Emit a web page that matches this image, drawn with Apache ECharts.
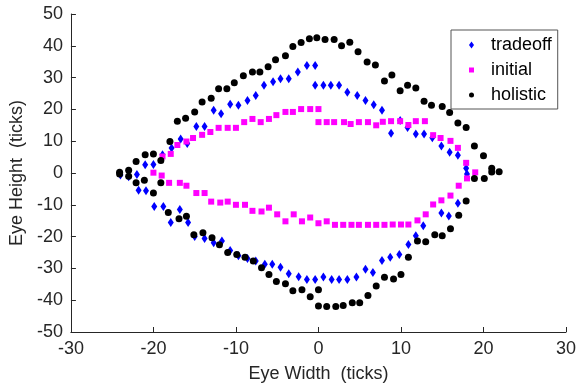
<!DOCTYPE html>
<html>
<head>
<meta charset="utf-8">
<script src="https://cdn.jsdelivr.net/npm/echarts@6/dist/echarts.min.js"></script>
<style>
  html, body { margin: 0; padding: 0; background: #fff; }
  #chart { width: 579px; height: 388px; }
</style>
</head>
<body>
<div id="chart"></div>
<script>
// tradeoff (blue diamonds): upper half then lower half
const tradeoffX = [-24.0, -22.0, -21.0, -20.0, -18.9, -17.8, -16.7, -15.9, -14.8, -13.8, -12.7, -11.8, -10.7, -9.7, -8.6, -7.6, -6.6, -5.5, -4.6, -3.6, -2.5, -1.4, -0.4, -0.4, 0.6, 1.5, 2.5, 3.5, 4.7, 5.7, 6.7, 7.7, 8.8, 9.9, 10.8, 11.8, 12.8, 13.8, 14.9, 15.9, 16.9, 17.9, 18.0,
  -23.0, -21.8, -20.9, -19.9, -18.8, -17.9, -16.8, -15.8, -15.0, -13.8, -12.7, -11.7, -10.7, -9.7, -8.6, -7.6, -6.5, -5.6, -4.6, -3.6, -2.4, -1.4, -0.4, 0.6, 1.6, 2.5, 3.5, 4.6, 5.7, 6.6, 7.7, 8.7, 9.8, 10.9, 11.8, 12.7, 14.9, 15.8, 16.9];
const tradeoffY = [-0.6, -0.5, 2.6, 2.7, 5.7, 7.9, 10.7, 9.3, 14.6, 14.6, 19.7, 18.6, 21.6, 21.3, 22.8, 24.4, 27.6, 28.7, 29.6, 29.6, 31.8, 33.8, 33.8, 27.6, 27.6, 27.6, 27.6, 25.4, 24.4, 22.8, 21.5, 19.7, 12.5, 16.5, 14.3, 12.3, 12.3, 11.1, 8.5, 6.5, 5.6, 1.5, -0.3,
  -1.2, -5.4, -5.6, -10.5, -10.5, -15.6, -11.5, -15.6, -20.0, -20.6, -21.9, -21.4, -24.4, -26.0, -26.9, -27.7, -28.7, -28.7, -29.6, -31.7, -32.6, -33.5, -33.5, -32.7, -33.5, -33.5, -33.5, -32.7, -30.3, -31.3, -27.5, -26.5, -25.6, -22.5, -19.7, -16.6, -12.6, -13.5, -9.5];

// initial (magenta squares)
const initialX = [-20.0, -18.9, -17.9, -17.1, -16.0, -15.2, -14.1, -13.1, -12.1, -11.0, -10.0, -9.0, -8.0, -7.0, -6.0, -5.1, -4.0, -3.1, -2.1, -1.0, 0.0, 0.0, 1.0, 1.9, 3.1, 3.9, 4.9, 6.0, 7.0, 7.8, 8.8, 9.9, 10.9, 11.8, 12.9, 13.9, 14.8, 16.0, 16.9, 17.9, 19.0,
  -19.0, -18.1, -16.8, -16.0, -14.8, -13.8, -13.0, -11.9, -11.0, -10.0, -8.9, -8.0, -6.9, -6.0, -5.0, -4.0, -3.0, -2.0, -1.0, 0.0, 1.0, 2.0, 3.0, 4.0, 4.9, 6.0, 7.0, 8.0, 9.0, 10.0, 10.9, 12.0, 13.0, 13.9, 14.9, 16.0, 17.0, 18.0];
const initialY = [0.1, 5.2, 6.0, 8.8, 9.9, 11.0, 12.0, 12.9, 14.2, 14.2, 14.2, 16.0, 17.0, 16.0, 17.0, 18.2, 19.2, 19.2, 20.1, 20.1, 20.1, 16.0, 16.0, 16.0, 16.0, 15.4, 16.0, 16.0, 15.0, 16.1, 16.3, 16.3, 15.1, 16.3, 16.3, 11.9, 11.0, 10.1, 7.9, 3.2, 0.2,
  -0.8, -3.1, -3.1, -4.0, -6.3, -6.3, -9.0, -9.3, -9.0, -10.0, -10.0, -11.9, -12.1, -10.9, -13.0, -15.2, -13.0, -15.2, -14.0, -15.8, -15.2, -16.3, -16.3, -16.3, -16.3, -16.3, -16.3, -16.3, -16.2, -16.2, -16.2, -14.9, -13.0, -9.9, -8.6, -7.1, -4.0, -1.7];

// holistic (black dots)
const holisticX = [-24.1, -23.0, -22.1, -21.0, -20.0, -19.1, -18.0, -17.1, -16.1, -15.0, -14.1, -13.0, -12.1, -11.1, -10.2, -9.1, -8.0, -7.1, -6.1, -5.2, -4.0, -3.1, -2.1, -1.1, -0.2, 0.8, 1.9, 2.8, 3.8, 4.8, 5.9, 6.9, 8.0, 8.9, 9.9, 10.8, 11.8, 12.8, 13.7, 15.0, 15.9, 16.9, 17.9, 18.9, 20.0, 21.0, 21.9,
  -24.1, -23.0, -22.1, -21.1, -20.0, -19.1, -18.2, -16.9, -16.0, -15.1, -14.0, -12.9, -12.0, -11.0, -9.9, -8.9, -7.9, -6.9, -6.0, -5.1, -4.0, -3.1, -2.0, -1.0, 0.0, 0.0, 1.0, 2.1, 3.0, 4.1, 5.0, 6.0, 7.0, 8.0, 9.1, 10.0, 10.9, 12.0, 13.0, 14.1, 15.0, 16.0, 17.0, 17.9, 18.9, 20.1, 21.0];
const holisticY = [0.2, 0.9, 3.6, 5.7, 6.0, 3.9, 9.9, 16.3, 17.2, 19.2, 22.3, 23.5, 26.5, 26.5, 28.4, 30.6, 31.8, 31.8, 33.4, 35.6, 36.9, 39.8, 41.0, 42.2, 42.5, 42.0, 42.0, 40.0, 41.1, 38.1, 34.9, 34.0, 28.9, 30.8, 25.9, 27.6, 26.7, 22.6, 21.3, 20.9, 19.0, 15.7, 14.3, 8.5, 5.4, 1.5, 0.4,
  -0.3, -1.0, -3.1, -2.3, -6.3, -3.1, -12.4, -14.4, -13.6, -19.4, -18.8, -20.4, -22.6, -25.0, -25.6, -26.5, -27.7, -29.8, -31.9, -34.1, -34.8, -37.0, -36.7, -38.9, -36.7, -41.8, -42.0, -42.0, -41.7, -40.8, -40.8, -38.5, -35.5, -32.8, -33.3, -31.9, -26.5, -21.4, -21.6, -19.4, -19.7, -17.5, -13.3, -8.8, -1.7, -1.7, 0.3];

const seriesNames = ['tradeoff', 'initial', 'holistic'];

const zip = (xs, ys) => xs.map((x, i) => [x, ys[i]]);

const axisColor = '#262626';
const fontFamily = '"Liberation Sans", Arial, sans-serif';

const chart = echarts.init(document.getElementById('chart'), null, { renderer: 'canvas' });

const option = {
    animation: false,
    backgroundColor: '#fff',
    grid: { left: 63, right: 12, top: 14, bottom: 54 },
    legend: {
        left: 451,
        top: 30,
        orient: 'vertical',
        backgroundColor: '#fff',
        borderColor: '#555',
        borderWidth: 1,
        borderRadius: 0,
        padding: [6, 6, 5, 18],
        itemWidth: 5,
        itemHeight: 7,
        itemGap: 7,
        symbolKeepAspect: true,
        textStyle: { fontSize: 18, fontFamily, color: '#000', padding: [0, 0, 0, 12] },
        data: [
            { name: seriesNames[0], icon: 'diamond' },
            { name: seriesNames[1], icon: 'path://M0,0h1v1h-1z' },
            { name: seriesNames[2], icon: 'circle' }
        ]
    },
    xAxis: {
        type: 'value',
        min: -30, max: 30, interval: 10,
        name: 'Eye Width  (ticks)',
        nameLocation: 'middle',
        nameGap: 33,
        nameTextStyle: { fontSize: 18, fontFamily, color: axisColor },
        axisLine: { show: true, onZero: false, lineStyle: { color: axisColor, width: 1 } },
        axisTick: { show: true, inside: true, length: 5, lineStyle: { color: axisColor } },
        axisLabel: { fontSize: 18, fontFamily, color: axisColor, margin: 8 },
        splitLine: { show: false }
    },
    yAxis: {
        type: 'value',
        min: -50, max: 50, interval: 10,
        name: 'Eye Height  (ticks)',
        nameLocation: 'middle',
        nameGap: 32,
        nameTextStyle: { fontSize: 18, fontFamily, color: axisColor },
        axisLine: { show: true, onZero: false, lineStyle: { color: axisColor, width: 1 } },
        axisTick: { show: true, inside: true, length: 5, lineStyle: { color: axisColor } },
        axisLabel: { fontSize: 18, fontFamily, color: axisColor, margin: 8 },
        splitLine: { show: false }
    },
    series: [
        {
            name: seriesNames[0], type: 'scatter',
            symbol: 'diamond', symbolSize: [6, 9],
            itemStyle: { color: '#0000ff', opacity: 1 },
            data: zip(tradeoffX, tradeoffY)
        },
        {
            name: seriesNames[1], type: 'scatter',
            symbol: 'rect', symbolSize: 6,
            itemStyle: { color: '#ff00ff', opacity: 1 },
            data: zip(initialX, initialY)
        },
        {
            name: seriesNames[2], type: 'scatter',
            symbol: 'circle', symbolSize: 7,
            itemStyle: { color: '#000000', opacity: 1 },
            data: zip(holisticX, holisticY)
        }
    ]
};

chart.setOption(option);
</script>
</body>
</html>
